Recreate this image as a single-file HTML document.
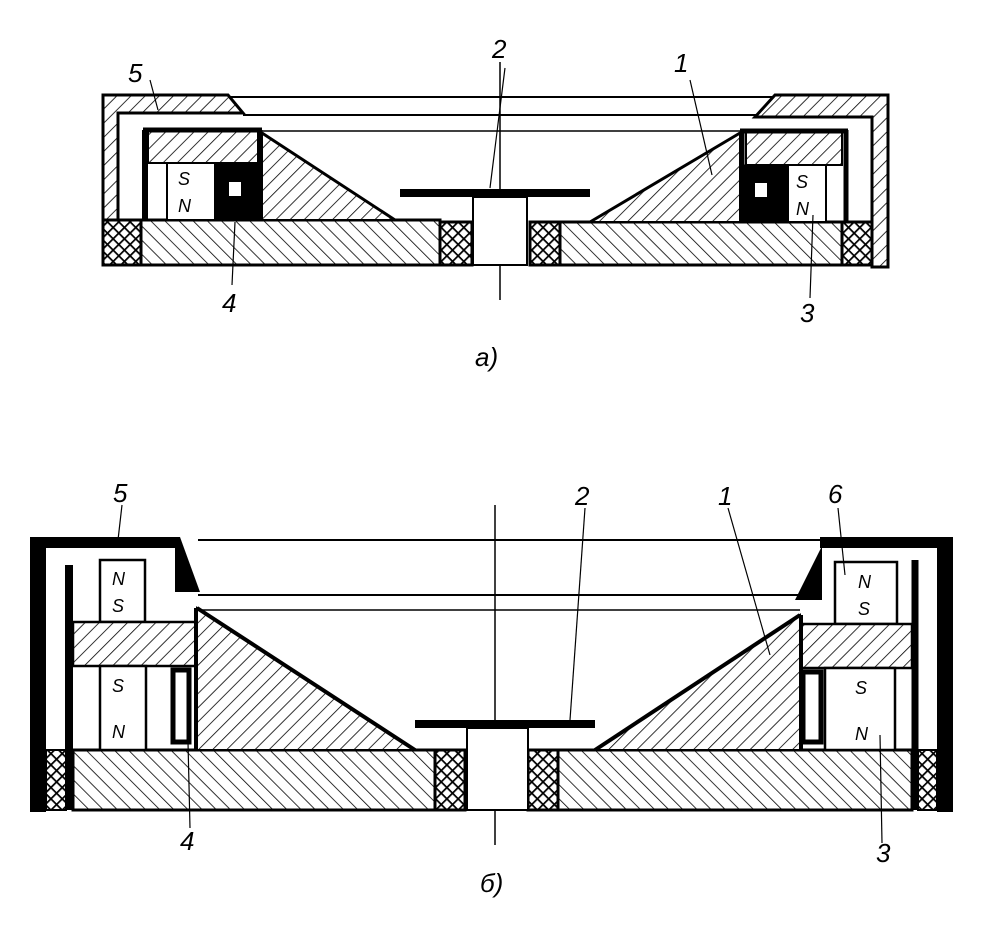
<!DOCTYPE html>
<html><head><meta charset="utf-8"><style>
html,body{margin:0;padding:0;background:#fff;}
svg{display:block;}
text{font-family:"Liberation Sans",sans-serif;font-style:italic;fill:#000;}
</style></head><body>
<svg width="995" height="952" viewBox="0 0 995 952" xmlns="http://www.w3.org/2000/svg">
<defs>
<pattern id="hr" width="10" height="10" patternUnits="userSpaceOnUse" patternTransform="rotate(45)"><rect width="10" height="10" fill="#fff"/><line x1="0" y1="0" x2="0" y2="10" stroke="#000" stroke-width="1.6"/></pattern>
<pattern id="hl" width="10" height="10" patternUnits="userSpaceOnUse" patternTransform="rotate(-45)"><rect width="10" height="10" fill="#fff"/><line x1="0" y1="0" x2="0" y2="10" stroke="#000" stroke-width="1.6"/></pattern>
<pattern id="cx" width="8" height="8" patternUnits="userSpaceOnUse" patternTransform="rotate(45)"><rect width="8" height="8" fill="#fff"/><line x1="0" y1="0" x2="0" y2="8" stroke="#000" stroke-width="3.5"/><line x1="0" y1="0" x2="8" y2="0" stroke="#000" stroke-width="3.5"/></pattern>
</defs>
<g stroke="#000" fill="none">
<line x1="500" y1="62" x2="500" y2="300" stroke-width="1.5"/>
<line x1="228" y1="97" x2="780" y2="97" stroke-width="2"/>
<line x1="243" y1="115" x2="760" y2="115" stroke-width="2"/>
<line x1="262" y1="131" x2="742" y2="131" stroke-width="1.5"/>
<path d="M103,95 L228,95 L243,113 L118,113 L118,220 L103,220 Z" fill="url(#hr)" stroke-width="3"/>
<path d="M775,95 L888,95 L888,267 L872,267 L872,117 L755,117 Z" fill="url(#hr)" stroke-width="3"/>
<rect x="103" y="220" width="38" height="45" fill="url(#cx)" stroke-width="3"/>
<rect x="440" y="222" width="32" height="43" fill="url(#cx)" stroke-width="3"/>
<rect x="530" y="222" width="30" height="43" fill="url(#cx)" stroke-width="3"/>
<rect x="842" y="222" width="30" height="43" fill="url(#cx)" stroke-width="3"/>
<rect x="141" y="220" width="299" height="45" fill="url(#hl)" stroke-width="3"/>
<rect x="560" y="222" width="282" height="43" fill="url(#hl)" stroke-width="3"/>
<rect x="473" y="197" width="54" height="68" fill="#fff" stroke-width="2"/>
<rect x="400" y="189" width="190" height="8" fill="#000" stroke="none"/>
<rect x="148" y="131" width="110" height="32" fill="url(#hr)" stroke-width="2"/>
<line x1="145" y1="130" x2="145" y2="220" stroke-width="6"/>
<line x1="143" y1="130" x2="262" y2="130" stroke-width="5"/>
<rect x="167" y="163" width="48" height="57" fill="#fff" stroke-width="2"/>
<rect x="215" y="163" width="45" height="57" fill="#000"/>
<rect x="229" y="182" width="12" height="14" fill="#fff" stroke="none"/>
<line x1="260" y1="130" x2="260" y2="220" stroke-width="5"/>
<path d="M262,133 L395,220 L262,220 Z" fill="url(#hr)" stroke-width="2"/>
<line x1="262" y1="133" x2="395" y2="220" stroke-width="3"/>
<rect x="746" y="131" width="96" height="34" fill="url(#hr)" stroke-width="2"/>
<line x1="846" y1="130" x2="846" y2="222" stroke-width="5"/>
<line x1="740" y1="131" x2="848" y2="131" stroke-width="5"/>
<rect x="742" y="165" width="46" height="57" fill="#000"/>
<rect x="755" y="183" width="12" height="14" fill="#fff" stroke="none"/>
<rect x="788" y="165" width="38" height="57" fill="#fff" stroke-width="2"/>
<line x1="742" y1="131" x2="742" y2="222" stroke-width="5"/>
<path d="M740,133 L590,222 L740,222 Z" fill="url(#hr)" stroke-width="2"/>
<line x1="740" y1="133" x2="590" y2="222" stroke-width="3"/>
<line x1="150" y1="80" x2="158" y2="110" stroke-width="1.2"/>
<line x1="505" y1="68" x2="490" y2="188" stroke-width="1.2"/>
<line x1="690" y1="80" x2="712" y2="175" stroke-width="1.2"/>
<line x1="232" y1="285" x2="235" y2="222" stroke-width="1.2"/>
<line x1="810" y1="298" x2="813" y2="215" stroke-width="1.2"/>

<line x1="495" y1="505" x2="495" y2="845" stroke-width="1.5"/>
<line x1="198" y1="540" x2="822" y2="540" stroke-width="2"/>
<line x1="198" y1="595" x2="800" y2="595" stroke-width="2"/>
<line x1="200" y1="610" x2="800" y2="610" stroke-width="1.5"/>
<path d="M30,537 L180,537 L180,548 L46,548 L46,812 L30,812 Z" fill="#000" stroke="none"/>
<path d="M820,537 L953,537 L953,812 L937,812 L937,548 L820,548 Z" fill="#000" stroke="none"/>
<path d="M175,548 L180,537 L200,592 L175,592 Z" fill="#000" stroke="none"/>
<path d="M822,546 L822,600 L795,600 Z" fill="#000" stroke="none"/>
<line x1="69" y1="565" x2="69" y2="810" stroke-width="8"/>
<line x1="915" y1="560" x2="915" y2="810" stroke-width="7"/>
<rect x="46" y="750" width="20" height="60" fill="url(#cx)" stroke-width="2"/>
<rect x="435" y="750" width="30" height="60" fill="url(#cx)" stroke-width="3"/>
<rect x="528" y="750" width="30" height="60" fill="url(#cx)" stroke-width="3"/>
<rect x="918" y="750" width="19" height="60" fill="url(#cx)" stroke-width="2"/>
<rect x="73" y="750" width="362" height="60" fill="url(#hl)" stroke-width="3"/>
<rect x="558" y="750" width="354" height="60" fill="url(#hl)" stroke-width="3"/>
<rect x="467" y="728" width="61" height="82" fill="#fff" stroke-width="2"/>
<rect x="415" y="720" width="180" height="8" fill="#000" stroke="none"/>
<rect x="100" y="560" width="45" height="62" fill="#fff" stroke-width="2.5"/>
<rect x="73" y="622" width="124" height="44" fill="url(#hr)" stroke-width="2.5"/>
<rect x="100" y="666" width="46" height="84" fill="#fff" stroke-width="2.5"/>
<rect x="173" y="670" width="16" height="72" fill="#fff" stroke-width="5"/>
<line x1="197" y1="608" x2="197" y2="750" stroke-width="6"/>
<path d="M197,608 L415,750 L197,750 Z" fill="url(#hr)" stroke-width="2"/>
<line x1="197" y1="608" x2="415" y2="750" stroke-width="4"/>
<rect x="835" y="562" width="62" height="62" fill="#fff" stroke-width="2.5"/>
<rect x="800" y="624" width="112" height="44" fill="url(#hr)" stroke-width="2.5"/>
<rect x="825" y="668" width="70" height="82" fill="#fff" stroke-width="2.5"/>
<rect x="803" y="672" width="18" height="70" fill="#fff" stroke-width="5"/>
<line x1="800" y1="615" x2="800" y2="750" stroke-width="6"/>
<path d="M800,615 L595,750 L800,750 Z" fill="url(#hr)" stroke-width="2"/>
<line x1="800" y1="615" x2="595" y2="750" stroke-width="4"/>
<line x1="122" y1="505" x2="118" y2="540" stroke-width="1.2"/>
<line x1="585" y1="508" x2="570" y2="720" stroke-width="1.2"/>
<line x1="728" y1="508" x2="770" y2="655" stroke-width="1.2"/>
<line x1="838" y1="508" x2="845" y2="575" stroke-width="1.2"/>
<line x1="190" y1="828" x2="188" y2="742" stroke-width="1.2"/>
<line x1="882" y1="843" x2="880" y2="735" stroke-width="1.2"/>
</g>
<g font-size="26">
<text x="128" y="82">5</text>
<text x="492" y="58">2</text>
<text x="674" y="72">1</text>
<text x="222" y="312">4</text>
<text x="800" y="322">3</text>
<text x="475" y="366">а)</text>
<text x="113" y="502">5</text>
<text x="575" y="505">2</text>
<text x="718" y="505">1</text>
<text x="828" y="503">6</text>
<text x="180" y="850">4</text>
<text x="876" y="862">3</text>
<text x="480" y="892">б)</text>
</g>
<g font-size="18">
<text x="178" y="185">S</text><text x="178" y="212">N</text>
<text x="796" y="188">S</text><text x="796" y="215">N</text>
<text x="112" y="585">N</text><text x="112" y="612">S</text>
<text x="112" y="692">S</text><text x="112" y="738">N</text>
<text x="858" y="588">N</text><text x="858" y="615">S</text>
<text x="855" y="694">S</text><text x="855" y="740">N</text>
</g>
</svg>
</body></html>
